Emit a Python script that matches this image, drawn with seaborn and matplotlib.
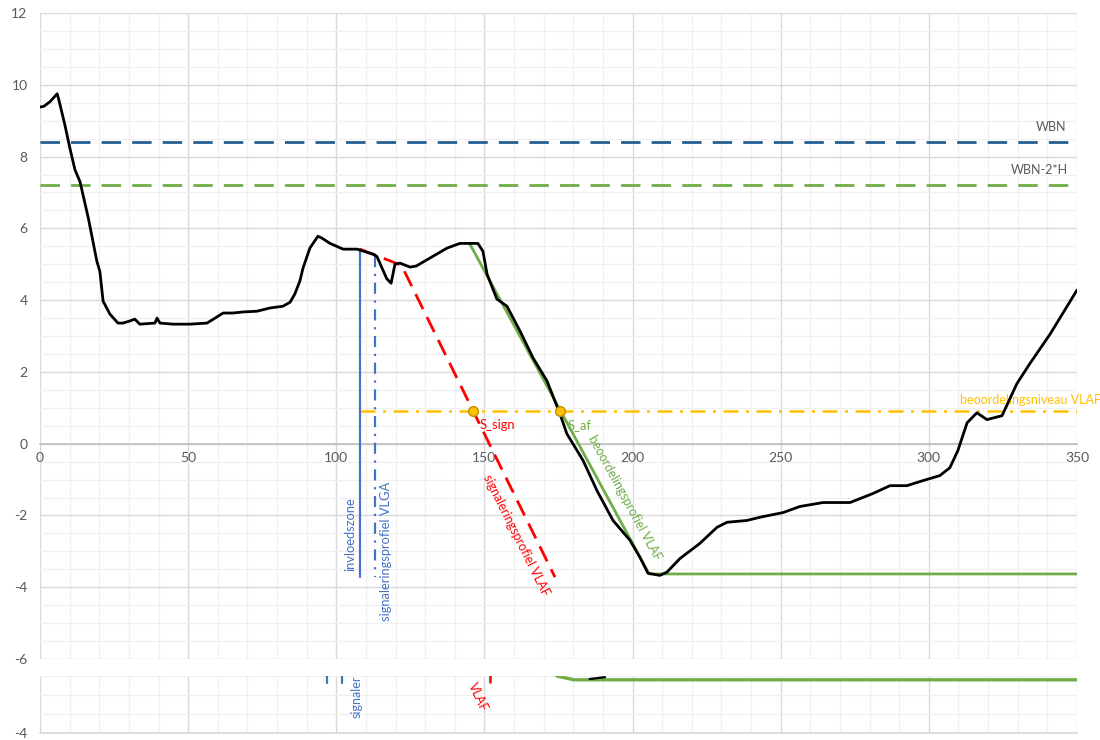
import numpy as np
import pandas as pd
import seaborn as sns
import matplotlib.pyplot as plt
from matplotlib.ticker import MultipleLocator

# ---- data -------------------------------------------------------------
# measured cross-section profile (distance [m], level [m])
profile_x = [0, 1.3, 3.4, 5.8, 6.3, 8.4, 10.1, 11.8, 13.5, 16.3, 19.2, 20.2, 21.3,
             23.6, 26.3, 28.0, 30.4, 32.0, 33.7, 38.8, 39.5, 40.5, 44.9, 50.6, 56.4,
             61.8, 65.1, 68.5, 73.2, 77.6, 82.0, 84.4, 86.0, 87.7, 88.8, 91.1, 93.8,
             95.1, 97.9, 102.3, 107.0, 112.4, 113.7, 117.0, 118.5, 119.8, 121.5, 124.9,
             127.0, 132.6, 137.4, 141.7, 147.8, 149.5, 150.9, 154.2, 157.6, 162.0,
             166.4, 171.1, 175.5, 177.8, 183.3, 188.0, 193.4, 199.1, 202.5, 205.2,
             209.2, 211.6, 216.0, 222.7, 228.5, 231.9, 238.6, 243.0, 250.8, 256.5,
             264.3, 273.4, 281.1, 286.9, 292.6, 298.0, 303.7, 307.1, 309.8, 312.9,
             316.2, 319.6, 324.7, 329.7, 334.0, 340.9, 350.0]
profile_y = [9.38, 9.40, 9.53, 9.75, 9.60, 8.88, 8.23, 7.63, 7.30, 6.29, 5.08, 4.80, 3.97,
             3.61, 3.36, 3.36, 3.42, 3.47, 3.33, 3.36, 3.50, 3.36, 3.33, 3.33, 3.36,
             3.64, 3.64, 3.67, 3.69, 3.78, 3.83, 3.94, 4.17, 4.53, 4.90, 5.45, 5.78,
             5.73, 5.58, 5.42, 5.42, 5.28, 5.22, 4.60, 4.47, 5.00, 5.03, 4.92,
             4.95, 5.22, 5.45, 5.58, 5.58, 5.36, 4.72, 4.03, 3.83, 3.14,
             2.39, 1.75, 0.83, 0.28, -0.47, -1.31, -2.14, -2.69, -3.17, -3.61,
             -3.67, -3.58, -3.20, -2.78, -2.33, -2.19, -2.14, -2.05, -1.92, -1.75,
             -1.64, -1.64, -1.39, -1.17, -1.17, -1.03, -0.89, -0.67, -0.19, 0.58,
             0.86, 0.67, 0.78, 1.67, 2.22, 3.05, 4.28]

wbn_level = 8.4            # WBN
wbn_2h_level = 7.2         # WBN-2*H
vlaf_level = 0.9           # beoordelingsniveau VLAF

invloedszone_x = 108.0
vlga_x = 113.1
vertical_top = [5.42, 5.22]
vertical_bottom = -3.72

sign_x = [108.0, 122.0, 173.8]     # signaleringsprofiel VLAF
sign_y = [5.42, 4.97, -3.72]
beoord_x = [145.1, 205.6, 350.0]   # beoordelingsprofiel VLAF
beoord_y = [5.56, -3.63, -3.63]

s_sign = (146.0, vlaf_level)
s_af = (175.6, vlaf_level)

x_ticks = [0, 50, 100, 150, 200, 250, 300, 350]
y_ticks = [-6, -4, -2, 0, 2, 4, 6, 8, 10, 12]

# ---- style ------------------------------------------------------------
sns.set_theme(style="white")
plt.rcParams["font.family"] = ["Lato", "DejaVu Sans"]
plt.rcParams["axes.unicode_minus"] = False

GRAY_TXT = "#595959"
BLUE = "#4472C4"
DARK_BLUE = "#255E91"
GREEN = "#70AD47"
RED = "#FF0000"
YELLOW = "#FFC000"

fig = plt.figure(figsize=(11, 7.4), dpi=100)
ax = fig.add_axes([40 / 1100, 1 - 659 / 740, 1037 / 1100, 646 / 740])


def style_grid(a):
    a.xaxis.set_major_locator(MultipleLocator(50))
    a.xaxis.set_minor_locator(MultipleLocator(10))
    a.grid(which="major", color="#D9D9D9", lw=1.0, zorder=0)
    a.grid(which="minor", color="#F0F0F0", lw=0.9, zorder=0)
    a.set_axisbelow(True)
    for s in ["top", "right", "left"]:
        a.spines[s].set_visible(False)
    a.tick_params(which="both", length=0, colors=GRAY_TXT, labelsize=10)


style_grid(ax)
ax.set_xlim(0, 350)
ax.set_ylim(-6, 12)
ax.yaxis.set_major_locator(MultipleLocator(2))
ax.yaxis.set_minor_locator(MultipleLocator(0.5))
ax.set_xticks(x_ticks)
ax.set_yticks(y_ticks)
ax.spines["bottom"].set_position(("data", 0))
ax.spines["bottom"].set_color("#BFBFBF")
ax.spines["bottom"].set_linewidth(1.2)
ax.tick_params(axis="x", pad=6)
ax.tick_params(axis="y", pad=9)

# horizontal reference levels
ax.axhline(wbn_level, color=DARK_BLUE, lw=2.0, dashes=(7, 4), zorder=2)
ax.axhline(wbn_2h_level, color=GREEN, lw=2.0, dashes=(7, 4), zorder=2)
ax.text(346.5, wbn_level + 0.25, "WBN", color=GRAY_TXT, fontsize=9, ha="right", va="bottom")
ax.text(347, wbn_2h_level + 0.25, "WBN-2*H", color=GRAY_TXT, fontsize=9, ha="right", va="bottom")

ax.plot([invloedszone_x, 350], [vlaf_level, vlaf_level], color=YELLOW, lw=1.8,
        dashes=(6, 3, 1.2, 3), zorder=2)
ax.text(310.5, vlaf_level + 0.15, "beoordelingsniveau VLAF", color=YELLOW, fontsize=9,
        ha="left", va="bottom", clip_on=False)

# vertical markers
ax.plot([invloedszone_x, invloedszone_x], [vertical_top[0], vertical_bottom],
        color=BLUE, lw=1.6, zorder=3)
ax.plot([vlga_x, vlga_x], [vertical_top[1], vertical_bottom],
        color=BLUE, lw=1.6, dashes=(5, 3, 1, 3), zorder=3)
ax.text(invloedszone_x - 1.2, -3.55, "invloedszone", color=BLUE, fontsize=9.3,
        rotation=90, ha="right", va="bottom")
ax.text(vlga_x + 1.5, -1.05, "signaleringsprofiel VLGA", color=BLUE, fontsize=9.3,
        rotation=90, ha="left", va="top")

# profiles
ax.plot(sign_x, sign_y, color=RED, lw=2.0, dashes=(6, 3.2), zorder=3)
ax.plot(beoord_x, beoord_y, color=GREEN, lw=2.0, zorder=3)

# ground line
ground = pd.DataFrame({"afstand": profile_x, "hoogte": profile_y})
sns.lineplot(data=ground, x="afstand", y="hoogte", sort=False, color="black",
             lw=2.0, ax=ax, zorder=4)
ax.set_xlabel("")
ax.set_ylabel("")

# intersection points
for px, py in (s_sign, s_af):
    ax.plot(px, py, "o", ms=7, mfc=YELLOW, mec="#BF9000", mew=1.0, zorder=6)
ax.text(s_sign[0] + 2.5, s_sign[1] - 0.2, "S_sign", color=RED, fontsize=9.3, va="top")
ax.text(s_af[0] + 2.3, s_af[1] - 0.2, "S_af", color=GREEN, fontsize=9.3, va="top")

ax.text(160.8, -2.55, "signaleringsprofiel VLAF", color=RED, fontsize=9,
        rotation=-63.5, ha="center", va="center", rotation_mode="anchor")
ax.text(197.4, -1.5, "beoordelingsprofiel VLAF", color=GREEN, fontsize=9,
        rotation=-61.5, ha="center", va="center", rotation_mode="anchor")

# ---- lower strip --------------------------------------------------------
ax2 = fig.add_axes([40 / 1100, 1 - 733 / 740, 1037 / 1100, 57 / 740])
style_grid(ax2)
ax2.set_xlim(0, 350)
ax2.set_ylim(-4, -2.5)
ax2.yaxis.set_major_locator(MultipleLocator(2))
ax2.yaxis.set_minor_locator(MultipleLocator(0.5))
ax2.set_yticks([-4])
ax2.set_xticklabels([])
ax2.spines["bottom"].set_color("#D9D9D9")
ax2.tick_params(axis="y", pad=9)

ax2.plot([96.9, 96.9], [-2.5, -2.68], color=BLUE, lw=1.6)
ax2.plot([101.9, 101.9], [-2.5, -2.68], color=BLUE, lw=1.6)
ax2.plot([151.9, 151.9], [-2.5, -2.66], color=RED, lw=1.8)
ax2.plot([174.4, 180.2, 350], [-2.5, -2.6, -2.6], color=GREEN, lw=2.4)
ax2.plot([185.5, 190.7], [-2.58, -2.53], color="black", lw=1.6)
ax2.text(107.0, -3.6, "signaler", color=BLUE, fontsize=9, rotation=90,
         ha="center", va="bottom")
ax2.text(147.8, -2.62, "VLAF", color=RED, fontsize=9, rotation=-65,
         ha="center", va="top")

fig.savefig("out.png", dpi=100)
